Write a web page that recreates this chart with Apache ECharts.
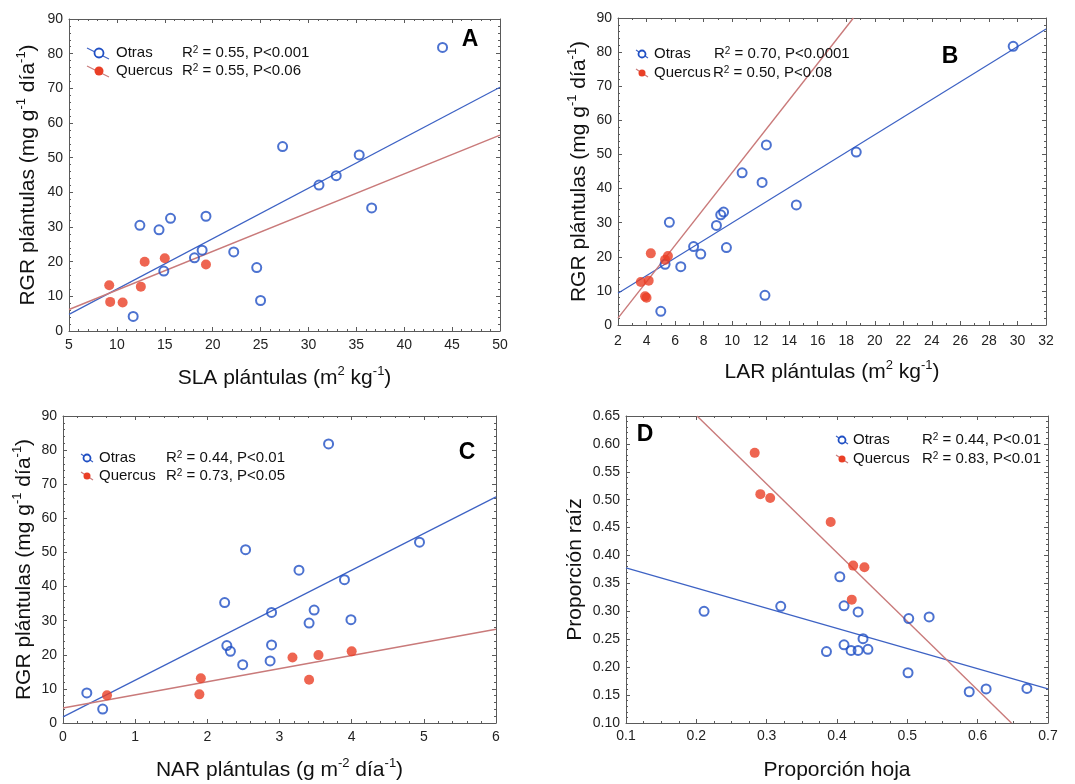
<!DOCTYPE html>
<html><head><meta charset="utf-8">
<script src="https://cdn.jsdelivr.net/npm/echarts@6/dist/echarts.min.js"></script>
<style>html,body{margin:0;padding:0;background:#fff}#c{width:1075px;height:784px}</style>
</head><body><div id="c"></div><script>
// ---------- DATA ----------
// Panel A: SLA vs RGR
const slaOtras = [[44.0,81.8],[27.3,53.2],[35.3,50.8],[31.1,42.1],[32.9,44.8],[36.6,35.5],[12.4,30.5],[14.4,29.2],[15.6,32.5],[19.3,33.1],[18.9,23.3],[18.1,21.1],[22.2,22.8],[14.9,17.3],[24.6,18.3],[25.0,8.8],[11.7,4.2]];
const slaQuercus = [[9.2,13.2],[9.3,8.4],[10.6,8.2],[12.5,12.8],[12.9,20.0],[15.0,21.0],[19.3,19.2]];
const slaFitOtras = [[5,4.8],[50,70.3]];
const slaFitQuercus = [[5,6.2],[50,56.5]];
// Panel B: LAR vs RGR
const larOtras = [[29.7,81.7],[18.7,50.7],[12.4,52.8],[10.7,44.6],[12.1,41.8],[14.5,35.2],[5.6,30.1],[8.9,29.2],[9.2,32.3],[9.4,33.1],[7.3,23.0],[9.6,22.7],[7.8,20.8],[5.3,17.8],[6.4,17.1],[12.3,8.7],[5.0,4.0]];
const larQuercus = [[3.6,12.6],[3.9,8.4],[4.0,8.0],[4.15,13.0],[5.5,20.2],[4.3,21.0],[5.3,19.1]];
const larFitOtras = [[2,9.3],[32,86.8]];
const larFitQuercus = [[2,2.0],[18.5,90]];
// Panel C: NAR vs RGR
const narOtras = [[3.68,81.8],[4.94,53.0],[2.53,50.8],[3.27,44.8],[3.90,42.0],[2.24,35.3],[2.89,32.4],[3.48,33.1],[3.41,29.3],[3.99,30.3],[2.27,22.7],[2.32,21.0],[2.89,22.9],[2.49,17.1],[2.87,18.2],[0.33,8.8],[0.55,4.1]];
const narQuercus = [[0.61,8.1],[1.91,13.1],[1.89,8.4],[3.18,19.2],[3.54,19.9],[4.00,21.0],[3.41,12.7]];
const narFitOtras = [[0,1.8],[6,66.3]];
const narFitQuercus = [[0,4.4],[6,27.5]];
// Panel D: leaf proportion vs root proportion
const hojaOtras = [[0.211,0.300],[0.320,0.309],[0.404,0.362],[0.410,0.310],[0.430,0.299],[0.502,0.287],[0.531,0.290],[0.437,0.251],[0.410,0.240],[0.385,0.228],[0.420,0.230],[0.430,0.230],[0.444,0.232],[0.501,0.190],[0.588,0.156],[0.612,0.161],[0.670,0.162]];
const hojaQuercus = [[0.283,0.584],[0.291,0.510],[0.305,0.503],[0.391,0.460],[0.423,0.382],[0.439,0.379],[0.421,0.321]];
const hojaFitOtras = [[0.1,0.378],[0.7,0.161]];
const hojaFitQuercus = [[0.201,0.65],[0.648,0.10]];

const groupNames = ['Otras','Quercus'];
const panelLetters = ['A','B','C','D'];
const statsOtras = ['R{s|2} = 0.55, P<0.001','R{s|2} = 0.70, P<0.0001','R{s|2} = 0.44, P<0.01','R{s|2} = 0.44, P<0.01'];
const statsQuercus = ['R{s|2} = 0.55, P<0.06','R{s|2} = 0.50, P<0.08','R{s|2} = 0.73, P<0.05','R{s|2} = 0.83, P<0.01'];
const xTitles = ['SLA plántulas (m{s|2} kg{s|-1})','LAR plántulas (m{s|2} kg{s|-1})','NAR plántulas (g m{s|-2} día{s|-1})','Proporción hoja'];
const yTitles = ['RGR plántulas (mg g{s|-1} día{s|-1})','RGR plántulas (mg g{s|-1} día{s|-1})','RGR plántulas (mg g{s|-1} día{s|-1})','Proporción raíz'];

// ---------- LAYOUT ----------
const FONT = 'Liberation Sans, Arial, sans-serif';
const BLUE = '#1f4fc4', RED = '#ea3f26', BLUE_LINE = '#3d62c4', RED_LINE = '#c97a7a', FRAME = '#5a5a5a';
const panels = [
  {grid:{left:69,top:19,width:431,height:312}, x:[5,50,5,5], y:[0,90,10,5], xf:v=>v, yf:v=>v,
   data:[slaOtras,slaQuercus,slaFitOtras,slaFitQuercus], xGap:34, yGap:28, xm:7,
   leg:{mx:99,my:[53,71],r:4.5,l:[-12,-5,10,6],tx:116,sx:[182,182],fs:15}, letter:[470,40]},
  {grid:{left:618,top:18,width:428,height:307}, x:[2,32,2,2], y:[0,90,10,5], xf:v=>v, yf:v=>v,
   data:[larOtras,larQuercus,larFitOtras,larFitQuercus], xGap:34, yGap:26, xm:9,
   leg:{mx:642,my:[54,73],r:3.5,l:[-6,-4,6,4],tx:654,sx:[714,713],fs:15}, letter:[950,57]},
  {grid:{left:63,top:416,width:433,height:307}, x:[0,6,1,5], y:[0,90,10,5], xf:v=>v, yf:v=>v,
   data:[narOtras,narQuercus,narFitOtras,narFitQuercus], xGap:34, yGap:26, xm:7,
   leg:{mx:87,my:[458,476],r:3.5,l:[-6,-4,6,4],tx:99,sx:[166,166],fs:15}, letter:[467,453]},
  {grid:{left:626,top:416,width:422,height:315}, x:[0.1,0.7,0.1,4], y:[0.10,0.65,0.05,5], xf:v=>v.toFixed(1), yf:v=>v.toFixed(2),
   data:[hojaOtras,hojaQuercus,hojaFitOtras,hojaFitQuercus], xGap:34, yGap:38, xm:6,
   leg:{mx:842,my:[440,459],r:3.5,l:[-6,-4,6,4],tx:853,sx:[922,922],fs:15}, letter:[645,435]}
];

const grids = [], xAxes = [], yAxes = [], series = [], graphics = [];
const nameStyle = {fontSize:21, fontFamily:FONT, color:'#111', lineHeight:26,
  rich:{s:{fontSize:13, fontFamily:FONT, color:'#111', lineHeight:13, verticalAlign:'top'}}};

function mkAxis(r, gi, pos, show, fmt, name, gap, margin) {
  return {
    type:'value', gridIndex:gi, position:pos, min:r[0], max:r[1], interval:r[2],
    axisLine:{show:true, onZero:false, lineStyle:{color:FRAME, width:1}},
    axisTick:{show:true, inside:true, length:4, lineStyle:{color:FRAME}},
    minorTick:{show:true, splitNumber:r[3], length:2, lineStyle:{color:FRAME}},
    splitLine:{show:false},
    axisLabel:{show:show, fontSize:14, fontFamily:FONT, color:'#222', margin:margin, formatter:fmt},
    name: show ? name : '', nameLocation:'middle', nameGap:gap, nameTextStyle:nameStyle
  };
}

panels.forEach((p, i) => {
  grids.push(Object.assign({containLabel:false}, p.grid));
  xAxes.push(mkAxis(p.x, i, 'bottom', true, p.xf, xTitles[i], p.xGap, p.xm));
  xAxes.push(mkAxis(p.x, i, 'top', false, p.xf, '', 0, 0));
  yAxes.push(mkAxis(p.y, i, 'left', true, p.yf, yTitles[i], p.yGap, 6));
  yAxes.push(mkAxis(p.y, i, 'right', false, p.yf, '', 0, 0));
  const xi = 2*i, yi = 2*i;
  series.push({type:'line', xAxisIndex:xi, yAxisIndex:yi, data:p.data[2], symbol:'none', clip:true, z:2,
    lineStyle:{color:BLUE_LINE, width:1.2}});
  series.push({type:'line', xAxisIndex:xi, yAxisIndex:yi, data:p.data[3], symbol:'none', clip:true, z:2,
    lineStyle:{color:RED_LINE, width:1.4}});
  series.push({type:'scatter', name:groupNames[0], xAxisIndex:xi, yAxisIndex:yi, data:p.data[0], symbol:'circle', symbolSize:9, z:3,
    itemStyle:{color:'rgba(255,255,255,0)', borderColor:BLUE, borderWidth:2}});
  series.push({type:'scatter', name:groupNames[1], xAxisIndex:xi, yAxisIndex:yi, data:p.data[1], symbol:'circle', symbolSize:10, z:4,
    itemStyle:{color:RED}});
  // legend graphics
  const L = p.leg;
  [0,1].forEach(k => {
    const my = L.my[k];
    graphics.push({type:'line', shape:{x1:L.mx+L.l[0], y1:my+L.l[1], x2:L.mx+L.l[2], y2:my+L.l[3]},
      style:{stroke:k?RED_LINE:BLUE_LINE, lineWidth:1.2}, z:10});
    graphics.push({type:'circle', shape:{cx:L.mx, cy:my, r:L.r},
      style: k ? {fill:RED} : {fill:'#fff', stroke:BLUE, lineWidth:1.8}, z:11});
    graphics.push({type:'text', x:L.tx, y:my, z:11,
      style:{text:groupNames[k], fontSize:L.fs, fontFamily:FONT, fill:'#111', align:'left', verticalAlign:'middle'}});
    graphics.push({type:'text', x:L.sx[k], y:my, z:11,
      style:{text:(k?statsQuercus:statsOtras)[i], fontSize:L.fs, fontFamily:FONT, fill:'#111', align:'left', verticalAlign:'middle',
        rich:{s:{fontSize:10, fontFamily:FONT, fill:'#111', lineHeight:10, verticalAlign:'top'}}}});
  });
  graphics.push({type:'text', x:p.letter[0], y:p.letter[1], z:11,
    style:{text:panelLetters[i], fontSize:23, fontWeight:'bold', fontFamily:FONT, fill:'#000', align:'center', verticalAlign:'middle'}});
});

const chart = echarts.init(document.getElementById('c'), null, {renderer:'canvas'});
chart.setOption({animation:false, backgroundColor:'#fff', grid:grids, xAxis:xAxes, yAxis:yAxes, series:series, graphic:graphics});
</script></body></html>
